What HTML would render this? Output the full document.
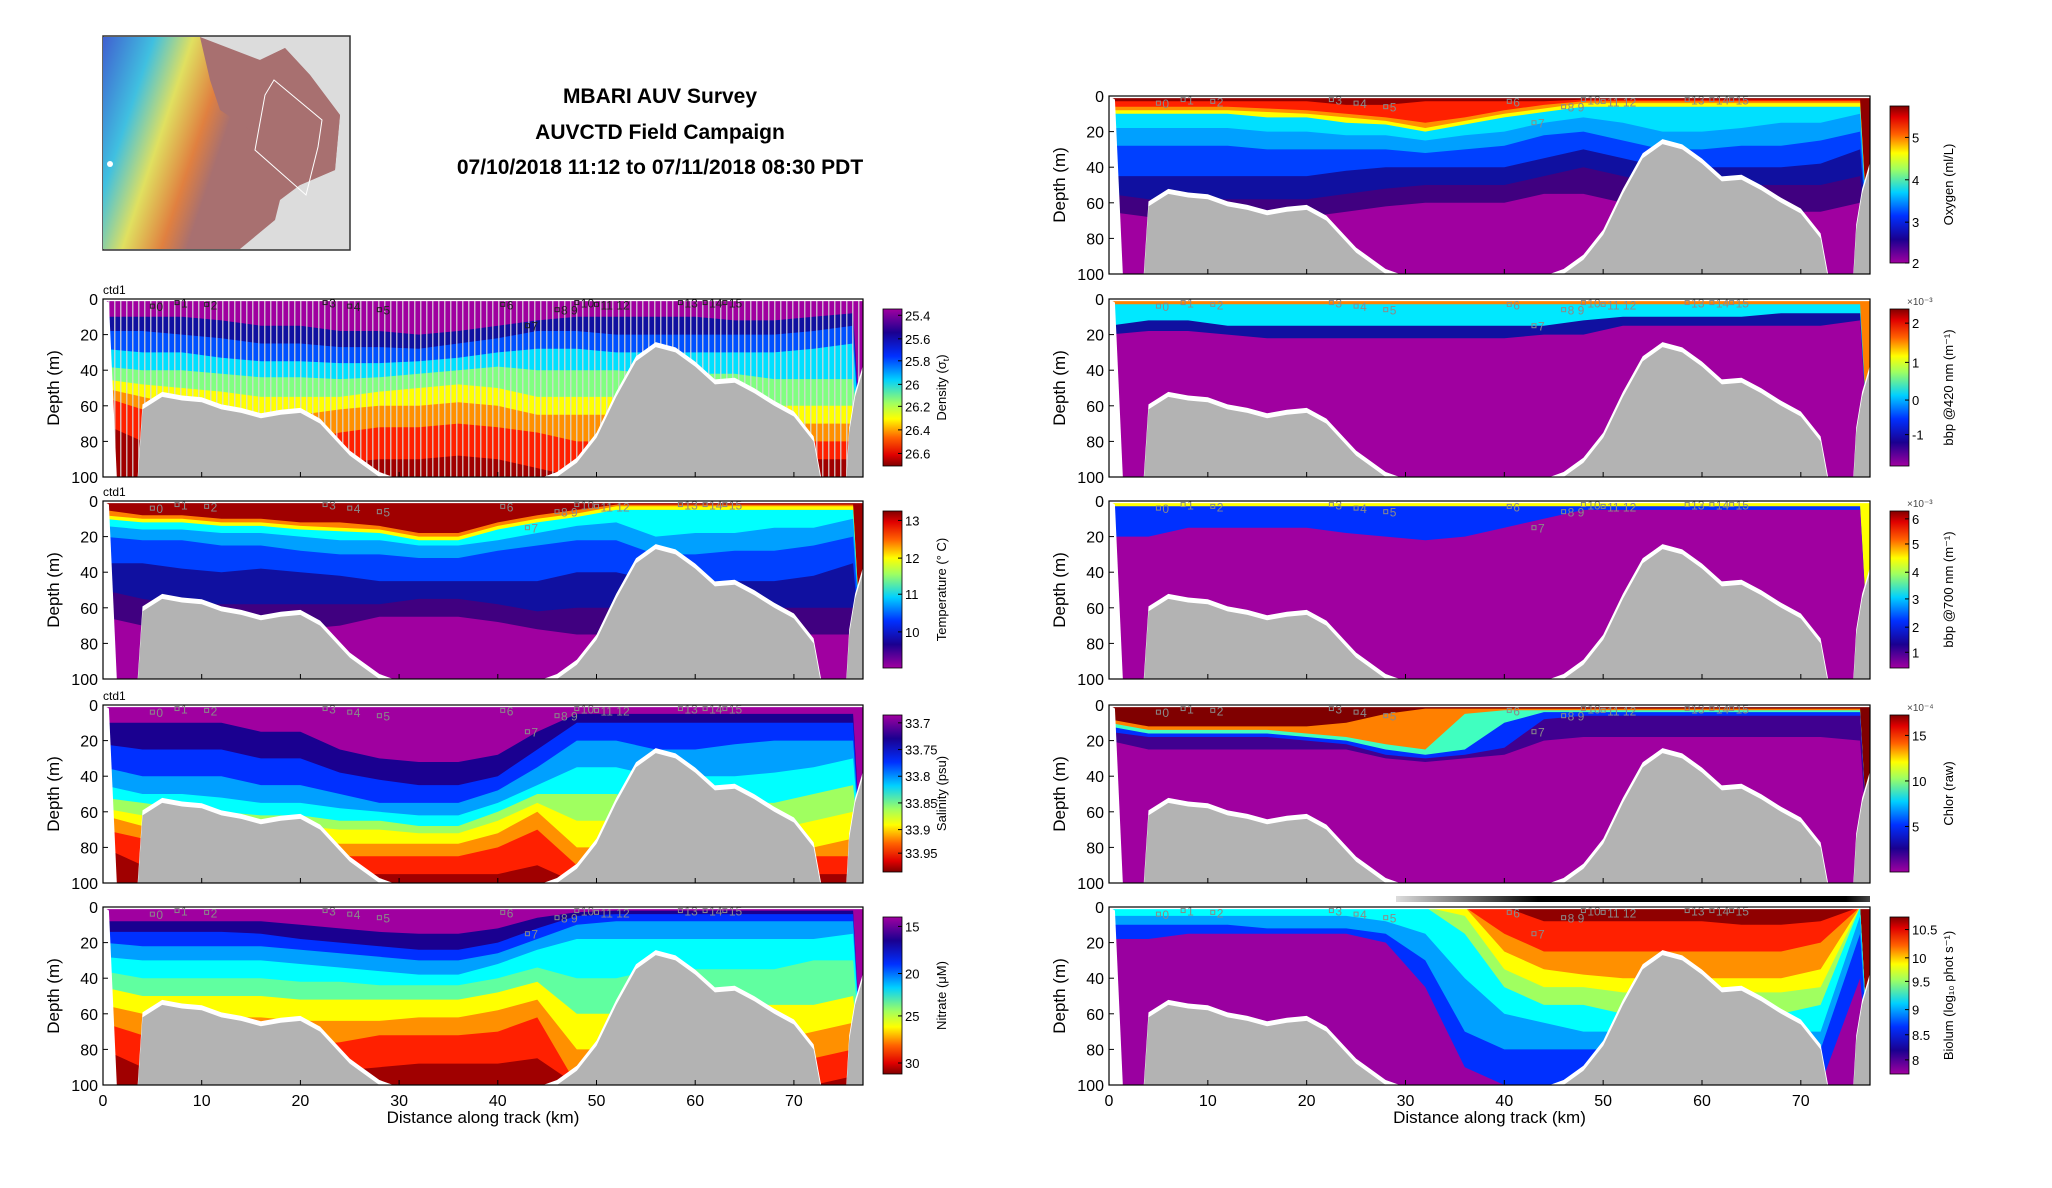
<!DOCTYPE html>
<html><head><meta charset="utf-8">
<style>
body{margin:0;background:#fff;width:2052px;height:1188px;overflow:hidden;font-family:"Liberation Sans",sans-serif}
#root{position:absolute;left:0;top:0}
.title{position:absolute;left:360px;width:600px;text-align:center;font-weight:bold;font-size:21px;color:#000}
</style></head><body>
<div class="title" style="top:85px">MBARI AUV Survey</div>
<div class="title" style="top:121px">AUVCTD Field Campaign</div>
<div class="title" style="top:156px">07/10/2018 11:12 to 07/11/2018 08:30 PDT</div>
<svg id="root" width="2052" height="1188">
<defs>
<linearGradient id="mapg" x1="0" y1="0" x2="1" y2="0.3">
<stop offset="0" stop-color="#4060d0"/><stop offset="0.2" stop-color="#40c0e0"/><stop offset="0.35" stop-color="#e0e060"/><stop offset="0.5" stop-color="#e08040"/><stop offset="0.6" stop-color="#a87070"/><stop offset="1" stop-color="#a87070"/></linearGradient>
<linearGradient id="bargrad" x1="0" y1="0" x2="1" y2="0"><stop offset="0" stop-color="#ddd"/><stop offset="0.3" stop-color="#000"/><stop offset="0.95" stop-color="#000"/><stop offset="1" stop-color="#444"/></linearGradient>
<linearGradient id="cbUp" x1="0" y1="0" x2="0" y2="1"><stop offset="0" stop-color="#a000a0"/><stop offset="0.15" stop-color="#1a0090"/><stop offset="0.3" stop-color="#0030ff"/><stop offset="0.45" stop-color="#00d0ff"/><stop offset="0.6" stop-color="#a0ff60"/><stop offset="0.7" stop-color="#ffff00"/><stop offset="0.82" stop-color="#ff6000"/><stop offset="0.93" stop-color="#e00000"/><stop offset="1" stop-color="#800000"/></linearGradient>
<linearGradient id="cbDown" x1="0" y1="1" x2="0" y2="0"><stop offset="0" stop-color="#a000a0"/><stop offset="0.15" stop-color="#1a0090"/><stop offset="0.3" stop-color="#0030ff"/><stop offset="0.45" stop-color="#00d0ff"/><stop offset="0.6" stop-color="#a0ff60"/><stop offset="0.7" stop-color="#ffff00"/><stop offset="0.82" stop-color="#ff6000"/><stop offset="0.93" stop-color="#e00000"/><stop offset="1" stop-color="#800000"/></linearGradient>
<pattern id="stripes" width="6" height="10" patternUnits="userSpaceOnUse"><rect x="0" y="0" width="1.5" height="10" fill="#d8d8d8"/></pattern>
</defs>
<g>
<rect x="103" y="36" width="247" height="214" fill="#dcdcdc" stroke="#333" stroke-width="1.5"/>
<path d="M103,37 L200,37 L215,50 L260,60 L285,48 L310,75 L340,115 L335,170 L300,185 L280,200 L275,220 L240,249 L103,249 Z" fill="url(#mapg)"/>
<path d="M200,37 L260,60 L285,48 L310,75 L340,115 L335,170 L300,185 L285,175 L270,150 L250,130 L220,110 L210,80 Z" fill="#a87070"/>
<path d="M274,80 L322,120 L318,147 L306,195 L255,150 L265,95 Z" fill="none" stroke="#fff" stroke-width="1"/>
<circle cx="110" cy="164" r="3" fill="#fff"/>
</g>
</svg>
<script>
const kmGrid=[0,4,8,12,16,20,24,28,32,36,40,44,48,52,56,60,64,68,72,76];
const bathyKm=[0,1.5,2,3.5,4,6,8,10,12,14,16,18,20,22,24,25,26,28,30,44,46,48,50,52,54,56,58,60,62,64,66,68,70,72,72.8,75.3,75.6,76.2,77];
const bathyDepth=[104,104,104,104,62,55,57,58,62,64,67,65,64,70,82,88,92,100,104,104,100,92,78,55,35,27,30,38,48,47,53,60,66,80,104,104,75,55,40];
const xTicks=[0,10,20,30,40,50,60,70];
const yTicks=[0,20,40,60,80,100];
const stationKm=[5,7.5,10.5,22.5,25,28,40.5,43,46,48,50,58.5,61,63];
const stationLbl=["0","1","2","3","4","5","6","7","8 9","10","11 12","13","14","15"];
const stationDepth=[4,2,3,2,4,6,3,15,6,2,3,2,2,2];

const densityColors=["#a000a0","#1010a0","#0050ff","#00e0ff","#80ff80","#ffff00","#ff9000","#ff2000","#a00000"];
const densityB1=[10,10,10,12,15,15,18,18,20,18,15,12,10,10,10,10,12,12,10,8];
const densityB2=[18,18,20,22,25,25,27,27,28,25,22,18,18,20,20,20,20,20,18,15];
const densityB3=[28,30,30,33,35,35,36,36,35,33,30,28,28,30,30,30,30,30,28,25];
const densityB4=[38,40,40,42,44,44,45,44,42,40,38,40,40,40,42,42,42,45,45,45];
const densityB5=[45,48,50,52,55,55,55,52,50,48,50,55,55,55,55,58,60,60,60,60];
const densityB6=[50,55,60,62,65,65,62,60,60,58,60,65,65,65,68,70,70,70,70,70];
const densityB7=[55,62,70,75,80,80,75,72,72,70,72,75,80,80,80,80,80,80,80,80];
const densityB8=[70,80,88,92,95,95,92,90,90,88,90,95,100,100,100,100,100,100,90,90];

const tempColors=["#a00000","#ff8000","#ffff00","#00ffff","#00a0ff","#0040ff","#1010a0","#400080","#a000a0"];
const tempB1=[5,8,8,10,10,12,12,14,18,18,12,8,5,2,2,2,2,2,2,2];
const tempB2=[8,10,10,12,12,14,15,16,20,20,14,10,7,3,3,3,3,3,3,3];
const tempB3=[10,12,12,14,14,16,17,18,22,22,16,12,9,5,5,5,5,5,5,5];
const tempB4=[14,16,16,18,18,20,22,22,25,25,22,18,14,12,20,18,18,15,15,10];
const tempB5=[20,22,22,25,25,28,30,30,32,32,28,25,22,22,30,30,28,28,25,20];
const tempB6=[35,35,38,40,38,40,42,45,45,45,45,45,40,40,45,45,45,45,42,35];
const tempB7=[50,55,58,58,58,58,58,58,55,55,58,62,60,60,60,60,60,60,60,60];
const tempB8=[65,70,72,72,75,72,70,65,65,65,68,72,75,75,75,75,75,75,75,75];

const salColors=["#a000a0","#1a0090","#0030ff","#00a0ff","#00ffff","#a0ff60","#ffff00","#ff9000","#ff2000","#a00000"];
const salB1=[10,10,10,10,15,15,25,30,32,32,28,15,5,5,5,5,5,5,5,5];
const salB2=[22,25,25,25,30,30,38,42,45,45,40,25,10,10,10,10,10,10,10,10];
const salB3=[35,40,40,40,45,45,50,55,55,55,48,35,20,20,25,25,22,20,20,20];
const salB4=[45,50,50,52,55,55,58,60,62,62,55,45,35,35,40,40,40,38,35,30];
const salB5=[52,55,58,60,62,62,65,65,68,68,60,50,50,50,55,55,55,55,50,45];
const salB6=[58,62,65,65,68,68,70,70,72,72,65,55,65,65,65,65,70,70,65,60];
const salB7=[62,68,70,72,75,75,78,78,78,78,72,60,80,80,80,80,85,85,80,75];
const salB8=[70,75,80,80,85,85,85,85,85,85,80,70,90,90,90,90,95,90,85,85];
const salB9=[80,90,95,95,100,100,95,95,95,95,95,90,100,100,100,100,100,100,95,95];

const nitColors=["#a000a0","#1a0090","#0030ff","#00a0ff","#00ffff","#60ffa0","#ffff00","#ff9000","#ff2000","#a00000"];
const nitB1=[8,8,8,8,8,10,12,14,15,15,12,6,3,2,2,2,2,2,2,2];
const nitB2=[14,14,14,14,15,18,20,22,24,24,20,12,5,4,4,4,4,4,4,4];
const nitB3=[20,22,22,22,22,24,26,28,30,30,26,18,10,8,8,8,8,8,8,8];
const nitB4=[28,30,30,30,30,32,34,36,38,38,32,24,18,18,18,18,18,18,18,15];
const nitB5=[36,40,40,40,40,42,42,44,44,44,40,34,40,40,35,35,35,35,30,30];
const nitB6=[45,50,50,50,50,52,52,52,52,52,48,42,60,60,55,55,55,55,55,50];
const nitB7=[55,60,62,62,62,64,64,64,62,62,58,52,80,80,75,75,75,75,70,65];
const nitB8=[65,72,75,75,75,78,76,72,72,72,70,62,100,100,90,90,90,90,85,80];
const nitB9=[80,90,95,95,95,95,92,90,88,88,88,85,100,100,100,100,100,100,100,95];

const oxyColors=["#900000","#ff2000","#ff9000","#ffff00","#00e0ff","#00a0ff","#0040ff","#1010a0","#400080","#a000a0"];
const oxyB1=[3,3,3,3,3,3,5,5,3,3,3,3,2,2,2,2,2,2,2,2];
const oxyB2=[6,6,6,6,7,8,10,12,15,12,8,5,3,3,3,3,3,3,3,3];
const oxyB3=[8,8,8,8,9,10,12,14,18,14,10,7,4,4,4,4,4,4,4,4];
const oxyB4=[10,10,10,10,12,12,15,16,20,16,12,9,6,6,6,6,6,6,6,6];
const oxyB5=[18,18,18,18,20,20,22,22,25,22,20,15,12,15,20,20,18,15,15,10];
const oxyB6=[28,28,28,28,30,30,30,30,32,30,28,22,20,25,30,30,28,28,25,20];
const oxyB7=[45,45,45,45,45,45,42,40,40,40,40,35,30,35,40,40,40,40,38,30];
const oxyB8=[55,58,58,58,58,58,55,52,50,50,50,45,40,45,50,52,50,50,50,45];
const oxyB9=[65,68,68,68,68,68,65,62,60,60,60,55,55,60,65,65,65,65,65,60];

const b420Colors=["#ff8000","#00e8ff","#1010a0","#a000a0"];
const b420B1=[3,3,3,3,3,3,3,3,3,3,3,3,3,3,3,3,3,3,3,3];
const b420B2=[15,12,12,15,15,15,15,15,15,15,15,15,12,10,10,10,10,8,8,8];
const b420B3=[20,18,18,20,22,22,22,22,22,22,22,20,20,15,15,15,15,15,15,12];

const b700Colors=["#ffff00","#0030ff","#a000a0"];
const b700B1=[3,3,3,3,3,3,3,3,3,3,3,3,3,3,3,3,3,3,3,3];
const b700B2=[20,20,15,15,15,15,18,20,22,20,15,10,5,5,5,5,5,5,5,5];

const chlColors=["#800000","#ff8000","#40ffc0","#0030ff","#400090","#a000a0"];
const chlB1=[8,12,12,12,12,12,10,5,2,2,2,2,2,2,2,2,2,2,2,2];
const chlB2=[10,14,14,14,14,16,18,22,25,5,3,3,3,3,3,3,3,3,3,3];
const chlB3=[12,16,16,16,16,18,20,25,28,25,10,4,4,4,4,4,4,4,4,4];
const chlB4=[15,18,18,18,18,20,22,28,30,28,24,8,6,6,6,6,6,6,6,6];
const chlB5=[20,25,25,25,25,25,25,30,32,30,28,20,18,18,18,18,18,18,18,20];

const bioColors=["#900000","#ff2000","#ff9000","#ffff00","#a0ff60","#00ffff","#00a0ff","#0030ff","#9a00a0"];
const bioB1=[0,0,0,0,0,0,0,0,0,0,0,8,8,8,8,8,10,10,8,0];
const bioB2=[0,0,0,0,0,0,0,0,0,0,15,25,25,25,25,25,25,25,20,0];
const bioB3=[0,0,0,0,0,0,0,0,0,0,25,35,38,40,40,40,40,40,35,0];
const bioB4=[0,0,0,0,0,0,0,0,0,5,35,45,45,48,48,48,48,48,45,0];
const bioB5=[0,0,0,0,0,0,0,0,0,15,45,55,55,60,60,60,60,60,55,0];
const bioB6=[5,5,5,5,5,5,5,8,15,40,60,65,70,70,70,70,70,70,70,5];
const bioB7=[10,10,10,10,12,12,12,15,30,70,80,80,80,80,80,80,80,80,80,15];
const bioB8=[18,18,15,15,15,15,15,20,45,90,100,100,100,100,100,100,100,100,100,40];

const densTicks=["25.4","25.6","25.8","26","26.2","26.4","26.6"];
const densTickPos=[0.04,0.19,0.33,0.48,0.62,0.77,0.92];
const tempTicks=["13","12","11","10"];const tempTickPos=[0.06,0.30,0.53,0.77];
const salTicks=["33.7","33.75","33.8","33.85","33.9","33.95"];const salTickPos=[0.05,0.22,0.39,0.56,0.73,0.88];
const nitTicks=["15","20","25","30"];const nitTickPos=[0.06,0.36,0.63,0.93];
const oxyTicks=["5","4","3","2"];const oxyTickPos=[0.2,0.47,0.74,1.0];
const b420Ticks=["2","1","0","-1"];const b420TickPos=[0.09,0.34,0.58,0.8];
const b700Ticks=["6","5","4","3","2","1"];const b700TickPos=[0.05,0.21,0.39,0.56,0.74,0.9];
const chlTicks=["15","10","5"];const chlTickPos=[0.13,0.42,0.71];
const bioTicks=["10.5","10","9.5","9","8.5","8"];const bioTickPos=[0.08,0.26,0.41,0.59,0.75,0.91];

const NS="http://www.w3.org/2000/svg";
const root=document.getElementById('root');
function mk(tag,attrs,parent){const e=document.createElementNS(NS,tag);for(const k in attrs)e.setAttribute(k,attrs[k]);(parent||root).appendChild(e);return e;}

const LL=103, LW=760, RL=1109, RW=761;
const panels=[
 {id:"density",L:LL,W:LW,T:299,colors:densityColors,bands:[densityB1,densityB2,densityB3,densityB4,densityB5,densityB6,densityB7,densityB8],ticks:densTicks,tpos:densTickPos,grad:"cbUp",label:"Density (σ",sub:"t",labEnd:")",stripes:true,ctd:true,stColor:"#222",xl:false},
 {id:"temperature",L:LL,W:LW,T:501,colors:tempColors,bands:[tempB1,tempB2,tempB3,tempB4,tempB5,tempB6,tempB7,tempB8],ticks:tempTicks,tpos:tempTickPos,grad:"cbDown",label:"Temperature (° C)",ctd:true,xl:false},
 {id:"salinity",L:LL,W:LW,T:705,colors:salColors,bands:[salB1,salB2,salB3,salB4,salB5,salB6,salB7,salB8,salB9],ticks:salTicks,tpos:salTickPos,grad:"cbUp",label:"Salinity (psu)",ctd:true,xl:false},
 {id:"nitrate",L:LL,W:LW,T:907,colors:nitColors,bands:[nitB1,nitB2,nitB3,nitB4,nitB5,nitB6,nitB7,nitB8,nitB9],ticks:nitTicks,tpos:nitTickPos,grad:"cbUp",label:"Nitrate (μM)",xl:true},
 {id:"oxygen",L:RL,W:RW,T:96,colors:oxyColors,bands:[oxyB1,oxyB2,oxyB3,oxyB4,oxyB5,oxyB6,oxyB7,oxyB8,oxyB9],ticks:oxyTicks,tpos:oxyTickPos,grad:"cbDown",label:"Oxygen (ml/L)",xl:false},
 {id:"bbp420",L:RL,W:RW,T:299,colors:b420Colors,bands:[b420B1,b420B2,b420B3],ticks:b420Ticks,tpos:b420TickPos,grad:"cbDown",label:"bbp @420 nm (m⁻¹)",exp:"×10⁻³",xl:false},
 {id:"bbp700",L:RL,W:RW,T:501,colors:b700Colors,bands:[b700B1,b700B2],ticks:b700Ticks,tpos:b700TickPos,grad:"cbDown",label:"bbp @700 nm (m⁻¹)",exp:"×10⁻³",xl:false},
 {id:"chlor",L:RL,W:RW,T:705,colors:chlColors,bands:[chlB1,chlB2,chlB3,chlB4,chlB5],ticks:chlTicks,tpos:chlTickPos,grad:"cbDown",label:"Chlor (raw)",exp:"×10⁻⁴",xl:false},
 {id:"biolum",L:RL,W:RW,T:907,colors:bioColors,bands:[bioB1,bioB2,bioB3,bioB4,bioB5,bioB6,bioB7,bioB8],ticks:bioTicks,tpos:bioTickPos,grad:"cbDown",label:"Biolum (log₁₀ phot s⁻¹)",xl:true,bar:true}
];
const H=178;

panels.forEach(p=>{
 const xs=k=>p.L+k/77*p.W, ys=d=>p.T+d/100*H;
 const g=mk('g',{});
 
 
 const cp=mk('clipPath',{id:'clip-'+p.id},g);
 mk('rect',{x:p.L,y:p.T,width:p.W,height:H},cp);
 const plot=mk('g',{'clip-path':'url(#clip-'+p.id+')'},g);
 const base=mk('rect',{x:p.L,y:p.T,width:p.W,height:H,fill:p.colors[0]},plot);
 
 
 p.bands.forEach((b,i)=>{
  let pts=kmGrid.map((k,j)=>xs(k).toFixed(1)+','+ys(b[j]).toFixed(1));
  pts.push(xs(77)+','+ys(100),xs(0)+','+ys(100));
  const poly=mk('polygon',{points:pts.join(' '),fill:p.colors[i+1]},plot);
  
  
 });
 if(p.stripes){const s=mk('rect',{x:p.L,y:ys(1),width:p.W,height:H,fill:'url(#stripes)',opacity:0.8},plot);
  }
 mk('rect',{x:p.L,y:p.T,width:p.W,height:ys(1.2)-p.T,fill:'#fff'},plot);
 mk('polygon',{points:[xs(0)+','+ys(0),xs(0.6)+','+ys(2),xs(1.4)+','+ys(100),xs(0)+','+ys(100)].join(' '),fill:'#fff'},plot);
 let wp=bathyKm.map((k,j)=>xs(k).toFixed(1)+','+(ys(bathyDepth[j])-5).toFixed(1));
 wp.push(xs(77)+','+ys(110),xs(0)+','+ys(110));
 const wb=mk('polygon',{points:wp.join(' '),fill:'#fff'},plot);
 
 let gp=bathyKm.map((k,j)=>xs(k).toFixed(1)+','+ys(bathyDepth[j]).toFixed(1));
 gp.push(xs(77)+','+ys(110),xs(0)+','+ys(110));
 const gb=mk('polygon',{points:gp.join(' '),fill:'#b3b3b3'},plot);
 
 stationKm.forEach((k,j)=>{
  const c=p.stColor||'#8a8a8a';
  mk('rect',{x:xs(k)-2,y:ys(stationDepth[j])-2,width:4,height:4,fill:'none',stroke:c,'stroke-width':1},plot);
  const t=mk('text',{x:xs(k)+4,y:ys(stationDepth[j])+5,'font-size':12,fill:c},plot);
  t.textContent=stationLbl[j];
  
 });
 mk('rect',{x:p.L,y:p.T,width:p.W,height:H,fill:'none',stroke:'#000','stroke-width':1.2},g);
 yTicks.forEach(v=>{
  mk('line',{x1:p.L,x2:p.L+5,y1:ys(v),y2:ys(v),stroke:'#000'},g);
  const t=mk('text',{x:p.L-5,y:ys(v)+6,'font-size':16,'text-anchor':'end'},g);
  t.textContent=v;
  
 });
 xTicks.forEach(v=>{
  mk('line',{x1:xs(v),x2:xs(v),y1:p.T+H,y2:p.T+H-5,stroke:'#000'},g);
  if(p.xl){const t=mk('text',{x:xs(v),y:p.T+H+21,'font-size':16,'text-anchor':'middle'},g);
   t.textContent=v;
   }
 });
 const yl=mk('text',{x:0,y:0,'font-size':17,'text-anchor':'middle',transform:`translate(${p.L-44},${p.T+H/2}) rotate(-90)`},g);
 yl.textContent='Depth (m)';
 
 if(p.xl){const xl=mk('text',{x:p.L+p.W/2,y:p.T+H+38,'font-size':17,'text-anchor':'middle'},g);
  xl.textContent='Distance along track (km)';
  }
 if(p.ctd){const c=mk('text',{x:p.L,y:p.T-5,'font-size':12},g);c.textContent='ctd1';
  }
 if(p.bar){const b=mk('rect',{x:1396,y:p.T-11,width:p.L+p.W-1396,height:6,fill:'url(#bargrad)'},g);
  }
 const cx=p.L+p.W+20, cy=p.T+10, ch=157, cw=19;
 const cb=mk('rect',{x:cx,y:cy,width:cw,height:ch,fill:'url(#'+p.grad+')',stroke:'#000','stroke-width':0.8},g);
 
 p.ticks.forEach((tk,i)=>{
  const yy=cy+p.tpos[i]*ch;
  mk('line',{x1:cx+cw-4,x2:cx+cw,y1:yy,y2:yy,stroke:'#000'},g);
  const t=mk('text',{x:cx+cw+3,y:yy+5,'font-size':13},g);
  t.textContent=tk;
  
 });
 if(p.exp){const e=mk('text',{x:cx+cw-2,y:cy-4,'font-size':10,fill:'#444'},g);e.textContent=p.exp;
  }
 const cl=mk('text',{x:0,y:0,'font-size':13,'text-anchor':'middle',transform:`translate(${cx+cw+44},${cy+ch/2}) rotate(-90)`},g);
 cl.textContent=p.label;
 if(p.sub){const s=mk('tspan',{'font-size':9,dy:3},cl);s.textContent=p.sub;const e2=mk('tspan',{dy:-3},cl);e2.textContent=p.labEnd;}
 
});
</script>
</body></html>
